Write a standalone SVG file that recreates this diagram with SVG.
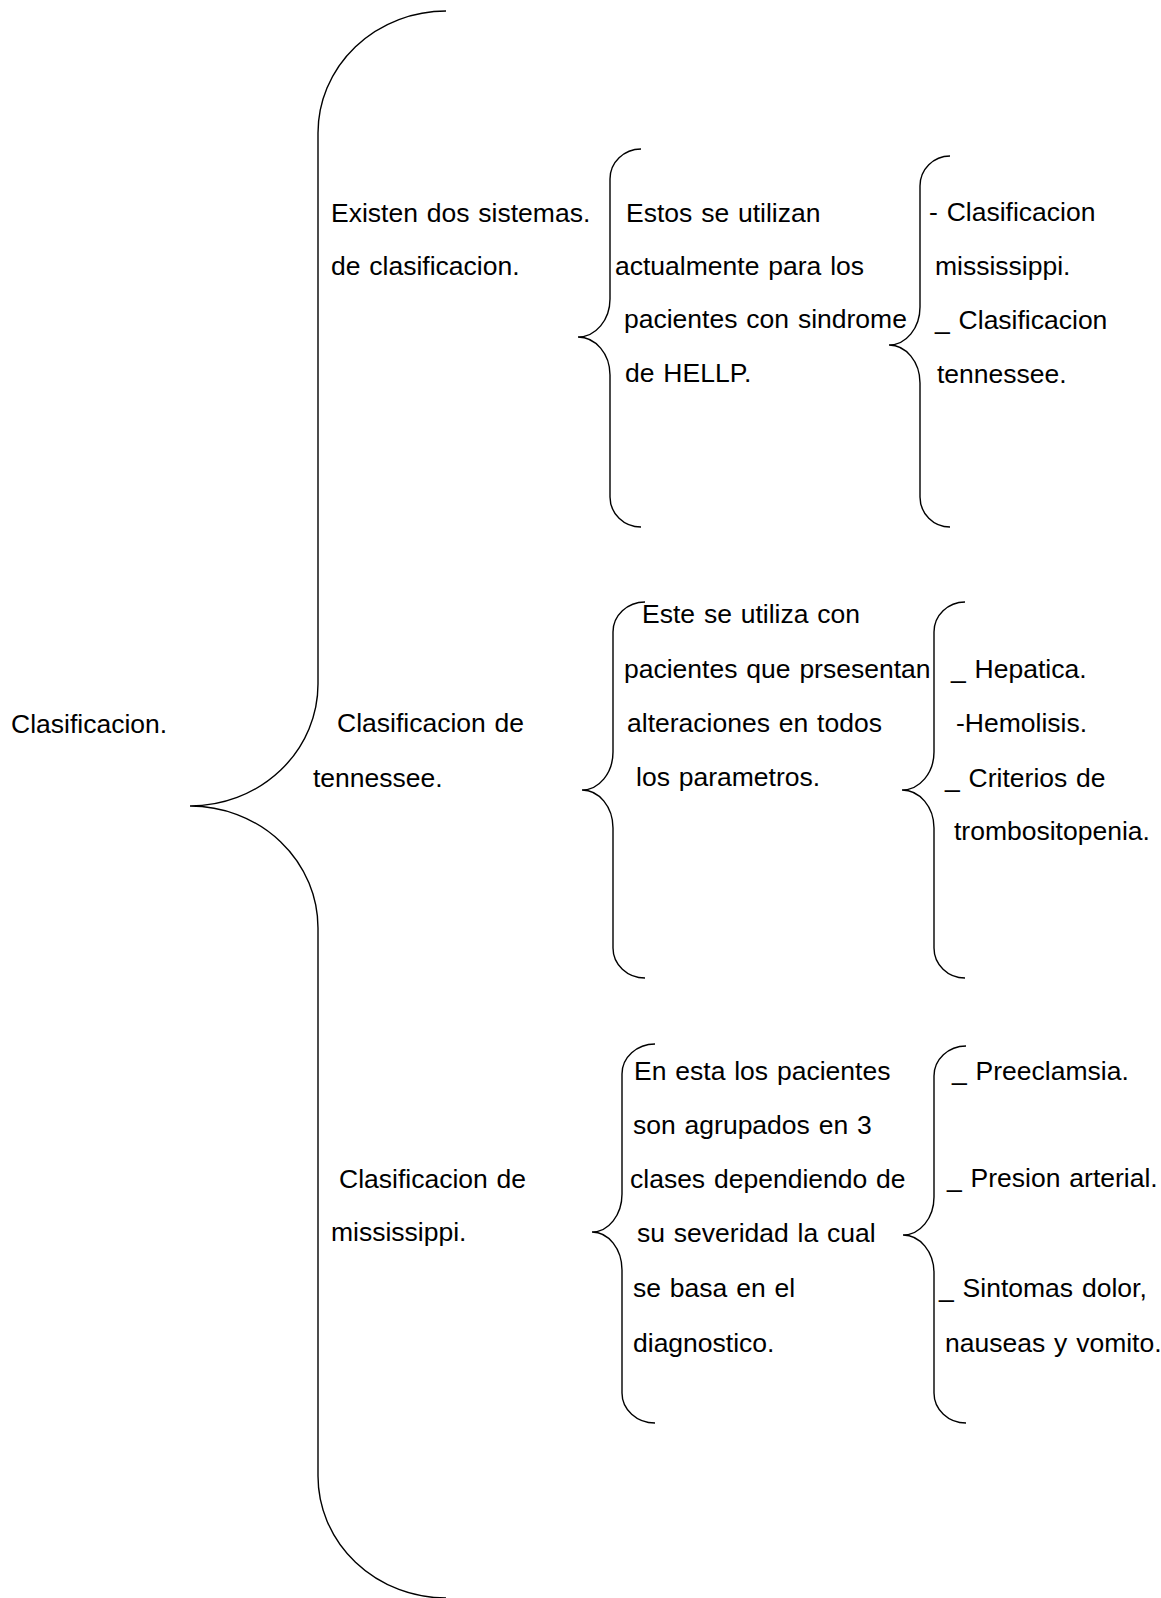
<svg xmlns="http://www.w3.org/2000/svg" width="1161" height="1598" viewBox="0 0 1161 1598">
<style>
text{font-family:"Liberation Sans",Arial,sans-serif;font-size:26.5px;word-spacing:1.5px;fill:#000}
.br{fill:none;stroke:#000;stroke-width:1.4}
</style>
<rect width="1161" height="1598" fill="#fff"/>
<g id="connectors">
<path class="br" d="M446,11 A128,122 0 0 0 318,133 L318,684 A128,122 0 0 1 190,806 A128,122 0 0 1 318,928 L318,1476 A128,122 0 0 0 446,1598"/>
<path class="br" d="M641,149 A31,30 0 0 0 610,179 L610,299 A32,38 0 0 1 578,337 A32,38 0 0 1 610,375 L610,497 A31,30 0 0 0 641,527"/>
<path class="br" d="M950,156 A30,30 0 0 0 920,186 L920,307 A31,38 0 0 1 889,345 A31,38 0 0 1 920,383 L920,497 A30,30 0 0 0 950,527"/>
<path class="br" d="M645,602 A32,30 0 0 0 613,632 L613,752 A31,38 0 0 1 582,790 A31,38 0 0 1 613,828 L613,948 A32,30 0 0 0 645,978"/>
<path class="br" d="M965,602 A31,30 0 0 0 934,632 L934,752 A32,38 0 0 1 902,790 A32,38 0 0 1 934,828 L934,948 A31,30 0 0 0 965,978"/>
<path class="br" d="M655,1044 A33,30 0 0 0 622,1074 L622,1194 A30,38 0 0 1 592,1232 A30,38 0 0 1 622,1270 L622,1393 A33,30 0 0 0 655,1423"/>
<path class="br" d="M966,1046 A32,30 0 0 0 934,1076 L934,1197 A31,38 0 0 1 903,1235 A31,38 0 0 1 934,1273 L934,1393 A32,30 0 0 0 966,1423"/>
</g>
<g id="root"><text x="11" y="733">Clasificacion.</text></g>
<g id="existen">
<text x="331" y="222">Existen dos sistemas.</text>
<text x="331" y="275">de clasificacion.</text>
</g>
<g id="estos">
<text x="626" y="222">Estos se utilizan</text>
<text x="615" y="275">actualmente para los</text>
<text x="624" y="328">pacientes con sindrome</text>
<text x="625" y="382">de HELLP.</text>
</g>
<g id="sistemas">
<text x="929" y="221">- Clasificacion</text>
<text x="935" y="275">mississippi.</text>
<text x="935" y="329">_ Clasificacion</text>
<text x="937" y="383">tennessee.</text>
</g>
<g id="tennessee">
<text x="337" y="732">Clasificacion de</text>
<text x="313" y="787">tennessee.</text>
</g>
<g id="tennessee-desc">
<text x="642" y="623">Este se utiliza con</text>
<text x="624" y="678">pacientes que prsesentan</text>
<text x="627" y="732">alteraciones en todos</text>
<text x="636" y="786">los parametros.</text>
</g>
<g id="tennessee-criterios">
<text x="951" y="678">_ Hepatica.</text>
<text x="956" y="732">-Hemolisis.</text>
<text x="945" y="787">_ Criterios de</text>
<text x="954" y="840">trombositopenia.</text>
</g>
<g id="mississippi">
<text x="339" y="1188">Clasificacion de</text>
<text x="331" y="1241">mississippi.</text>
</g>
<g id="mississippi-desc">
<text x="634" y="1080">En esta los pacientes</text>
<text x="633" y="1134">son agrupados en 3</text>
<text x="630" y="1188">clases dependiendo de</text>
<text x="637" y="1242">su severidad la cual</text>
<text x="633" y="1297">se basa en el</text>
<text x="633" y="1352">diagnostico.</text>
</g>
<g id="mississippi-criterios">
<text x="952" y="1080">_ Preeclamsia.</text>
<text x="947" y="1187">_ Presion arterial.</text>
<text x="939" y="1297">_ Sintomas dolor,</text>
<text x="945" y="1352">nauseas y vomito.</text>
</g>
</svg>
